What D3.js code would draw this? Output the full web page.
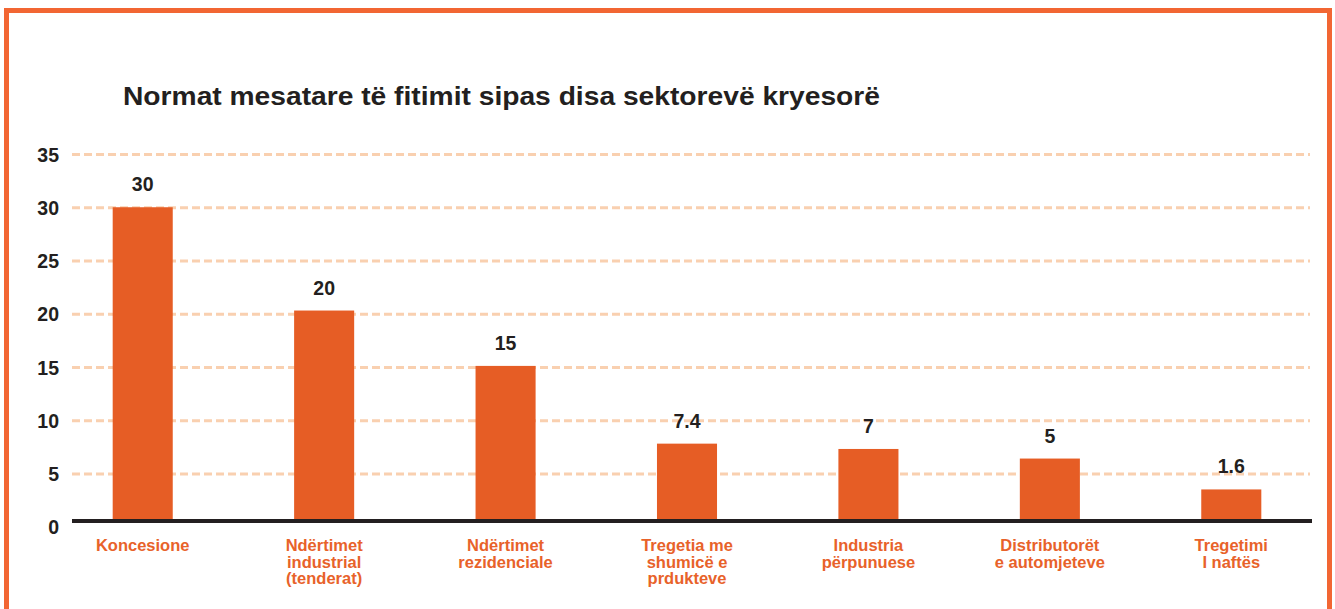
<!DOCTYPE html>
<html>
<head>
<meta charset="utf-8">
<script src="https://cdn.jsdelivr.net/npm/d3@7"></script>
<style>
  body { margin: 0; background: #fff; }
  svg { display: block; }
  text { font-family: "Liberation Sans", Arial, sans-serif; font-weight: bold; }
</style>
</head>
<body>
<svg id="chart" width="1335" height="609"></svg>
<script>
// chart data
const title = 'Normat mesatare të fitimit sipas disa sektorevë kryesorë';
const categories = [
    ['Koncesione'],
    ['Ndërtimet', 'industrial', '(tenderat)'],
    ['Ndërtimet', 'rezidenciale'],
    ['Tregetia me', 'shumicë e', 'prdukteve'],
    ['Industria', 'përpunuese'],
    ['Distributorët', 'e automjeteve'],
    ['Tregetimi', 'I naftës']
];
// bar heights as drawn in the picture
const barValues = [30, 20.3, 15.1, 7.8, 7.3, 6.4, 3.5];
// value labels as printed above the bars
const valueLabels = ['30', '20', '15', '7.4', '7', '5', '1.6'];
const yTicks = [0, 5, 10, 15, 20, 25, 30, 35];

const orange = '#E65D25';
const dark = '#231F20';

const svg = d3.select('#chart');

// frame
svg.append('rect')
    .attr('x', 6.5)
    .attr('y', 10.5)
    .attr('width', 1323)
    .attr('height', 700)
    .attr('fill', 'none')
    .attr('stroke', '#F26633')
    .attr('stroke-width', 5);

// title
svg.append('text')
    .attr('x', 123)
    .attr('y', 105)
    .attr('font-size', 26)
    .attr('fill', dark)
    .attr('textLength', 757)
    .attr('lengthAdjust', 'spacingAndGlyphs')
    .text(title);

// scales
const ids = categories.map((c, i) => i);
const x = d3.scaleBand()
    .domain(ids)
    .range([52, 1322])
    .paddingInner(0.669)
    .paddingOuter(0.3345);

const y = d3.scaleLinear()
    .domain([0, 35])
    .range([526.7, 154]);

const plotLeft = 72;
const plotRight = 1310;
const axisY = 521;

// gridlines + y tick labels
const yAxis = svg.append('g')
    .attr('transform', `translate(${plotLeft},0)`)
    .call(d3.axisLeft(y)
        .tickValues(yTicks)
        .tickSize(-(plotRight - plotLeft))
        .tickPadding(13)
        .tickFormat(d3.format('d')));

yAxis.select('.domain').remove();
yAxis.selectAll('.tick line')
    .attr('stroke', '#F9D0B0')
    .attr('stroke-width', 3)
    .attr('stroke-dasharray', '8,4')
    .filter(d => d === 0).remove();
yAxis.selectAll('.tick text')
    .attr('font-size', 19.5)
    .attr('font-family', '"Liberation Sans", Arial, sans-serif')
    .attr('fill', dark)
    .attr('dy', '0.36em');

// bars
svg.append('g')
    .selectAll('rect')
    .data(barValues)
    .join('rect')
    .attr('x', (d, i) => x(i))
    .attr('width', x.bandwidth())
    .attr('y', d => y(d))
    .attr('height', d => axisY - y(d))
    .attr('fill', orange);

// value labels
svg.append('g')
    .selectAll('text')
    .data(barValues)
    .join('text')
    .attr('x', (d, i) => x(i) + x.bandwidth() / 2)
    .attr('y', d => y(d) - 16)
    .attr('text-anchor', 'middle')
    .attr('font-size', 19.5)
    .attr('fill', dark)
    .text((d, i) => valueLabels[i]);

// x axis line
svg.append('line')
    .attr('x1', plotLeft)
    .attr('x2', plotRight + 2)
    .attr('y1', axisY)
    .attr('y2', axisY)
    .attr('stroke', dark)
    .attr('stroke-width', 4);

// category labels
const catLabels = svg.append('g')
    .selectAll('text')
    .data(categories)
    .join('text')
    .attr('text-anchor', 'middle')
    .attr('font-size', 16.5)
    .attr('fill', '#E8622A')
    .attr('y', 551);

catLabels.selectAll('tspan')
    .data((d, i) => d.map(line => ({ line, i })))
    .join('tspan')
    .attr('x', d => x(d.i) + x.bandwidth() / 2)
    .attr('dy', (d, j) => j === 0 ? 0 : 16.5)
    .text(d => d.line);
</script>
</body>
</html>
